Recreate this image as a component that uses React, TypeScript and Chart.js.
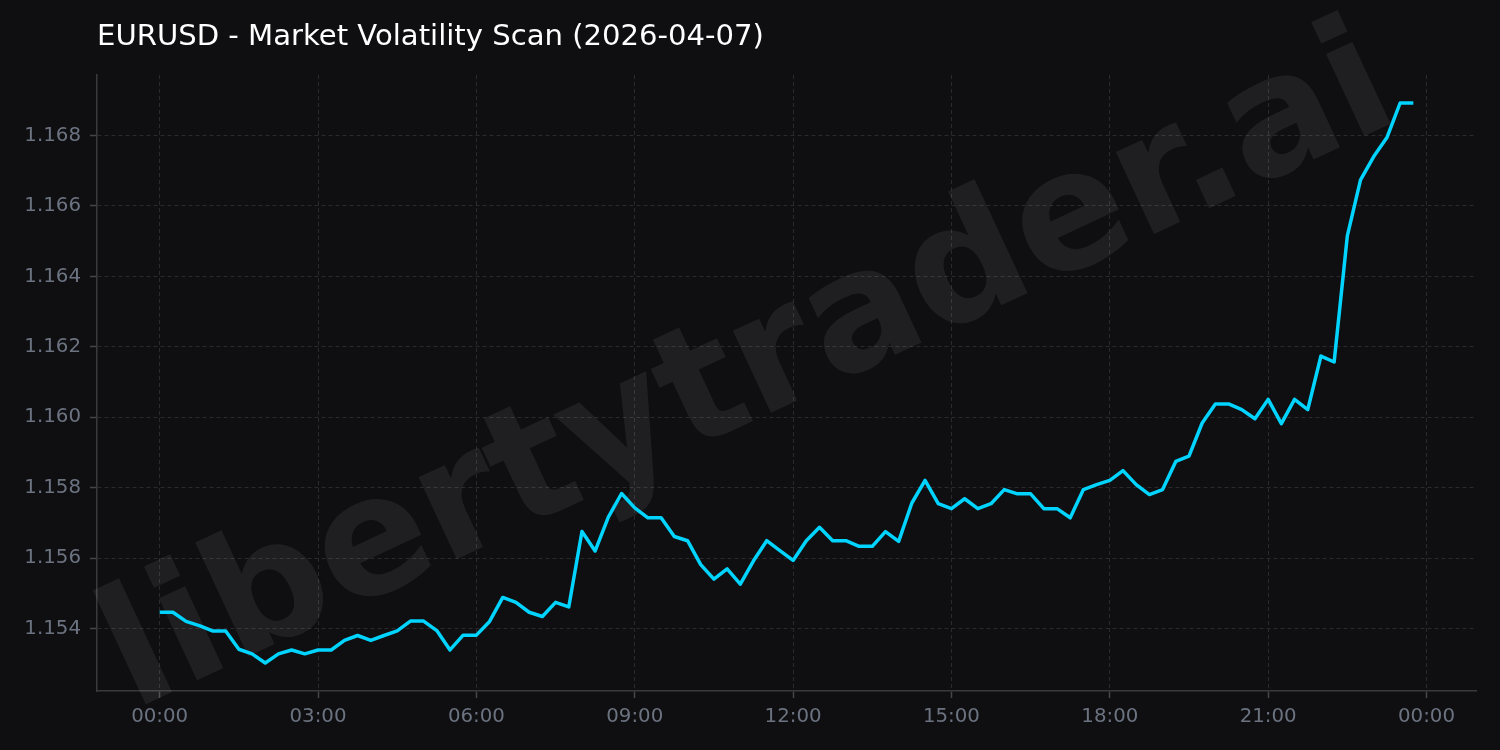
import React, { useEffect, useRef } from "react";
import { Chart, registerables } from "chart.js";

Chart.register(...registerables);

const TITLE = "EURUSD - Market Volatility Scan (2026-04-07)";
const WATERMARK = "libertytrader.ai";
const STEP_MINUTES = 15;

const PRICES: number[] = [
  1.15447, 1.15447, 1.15421, 1.15409, 1.15394, 1.15394, 1.15342, 1.15329,
  1.15303, 1.15329, 1.1534, 1.15329, 1.1534, 1.1534, 1.15367, 1.15381,
  1.15367, 1.15381, 1.15394, 1.15422, 1.15422, 1.15395, 1.1534, 1.15382,
  1.15382, 1.15421, 1.15489, 1.15475, 1.15447, 1.15435, 1.15475, 1.15462,
  1.15676, 1.15621, 1.15717, 1.15784, 1.15743, 1.15715, 1.15715, 1.15662,
  1.1565, 1.15582, 1.15541, 1.1557, 1.15527, 1.15593, 1.1565, 1.15622,
  1.15594, 1.1565, 1.15688, 1.1565, 1.1565, 1.15634, 1.15634, 1.15676,
  1.15648, 1.15757, 1.15821, 1.15755, 1.15741, 1.15769, 1.15741, 1.15755,
  1.15795, 1.15783, 1.15783, 1.15741, 1.15741, 1.15715, 1.15795, 1.15809,
  1.15821, 1.15849, 1.15809, 1.15781, 1.15795, 1.15875, 1.1589, 1.15984,
  1.16038, 1.16038, 1.16022, 1.15996, 1.16051, 1.15982, 1.16051, 1.16022,
  1.16174, 1.16157, 1.16515, 1.16674, 1.1674, 1.16794, 1.16892, 1.16892,
];

const X_TICK_MINUTES: number[] = [0, 180, 360, 540, 720, 900, 1080, 1260, 1440];
const X_TICK_LABELS: string[] = [
  "00:00", "03:00", "06:00", "09:00", "12:00", "15:00", "18:00", "21:00", "00:00",
];
const Y_TICKS: number[] = [1.154, 1.156, 1.158, 1.16, 1.162, 1.164, 1.166, 1.168];

const BG = "#0f0f11";
const LINE_COLOR = "#00d4ff";
const GRID_COLOR = "#2a2a2e";
const SPINE_COLOR = "#3a3a3d";
const TICK_MARK_COLOR = "#45454a";
const TICK_TEXT = "#6b7280";
const FONT = "'DejaVu Sans', 'Liberation Sans', sans-serif";

export default function App() {
  const canvasRef = useRef<HTMLCanvasElement | null>(null);

  useEffect(() => {
    document.body.style.margin = "0";
    document.body.style.background = BG;
    const canvas = canvasRef.current;
    if (!canvas) return;

    const points = PRICES.map((p, i) => ({ x: i * STEP_MINUTES, y: p }));
    const xLast = (PRICES.length - 1) * STEP_MINUTES;
    const xPad = xLast * 0.05;
    const yMin = Math.min(...PRICES);
    const yMax = Math.max(...PRICES);
    const yPad = (yMax - yMin) * 0.05;

    const decor = {
      id: "decor",
      beforeDraw(chart: any) {
        const ctx = chart.ctx;
        ctx.save();
        ctx.fillStyle = BG;
        ctx.fillRect(0, 0, chart.width, chart.height);
        ctx.restore();
      },
      beforeDatasetsDraw(chart: any) {
        const ctx = chart.ctx;
        const f = 165;
        ctx.save();
        ctx.translate(chart.width / 2, chart.height / 2);
        ctx.rotate((-25 * Math.PI) / 180);
        ctx.font = `bold ${f}px ${FONT}`;
        ctx.fillStyle = "rgba(255,255,255,0.07)";
        ctx.textAlign = "center";
        ctx.textBaseline = "alphabetic";
        ctx.fillText(WATERMARK, 0, 0.26 * f);
        ctx.restore();
      },
      afterDraw(chart: any) {
        const ctx = chart.ctx;
        ctx.save();
        ctx.font = `29.1px ${FONT}`;
        ctx.fillStyle = "#ffffff";
        ctx.textAlign = "left";
        ctx.textBaseline = "alphabetic";
        ctx.fillText(TITLE, chart.chartArea.left, 45);
        ctx.restore();
      },
    };

    const chart = new Chart(canvas, {
      type: "line",
      data: {
        datasets: [
          {
            data: points,
            borderColor: LINE_COLOR,
            borderWidth: 3.5,
            pointRadius: 0,
            tension: 0,
            fill: false,
            borderJoinStyle: "round",
            borderCapStyle: "butt",
          },
        ],
      },
      options: {
        animation: false,
        responsive: false,
        devicePixelRatio: 1,
        layout: { padding: { top: 75, right: 24, left: 0, bottom: 0 } },
        plugins: {
          legend: { display: false },
          title: { display: false },
          tooltip: { enabled: false },
        },
        scales: {
          x: {
            type: "linear",
            min: -xPad,
            max: xLast + xPad,
            afterBuildTicks: (scale: any) => {
              scale.ticks = X_TICK_MINUTES.map((v) => ({ value: v }));
            },
            afterFit: (scale: any) => {
              scale.height = 59;
            },
            ticks: {
              autoSkip: false,
              maxRotation: 0,
              padding: 7,
              color: TICK_TEXT,
              font: { family: FONT, size: 19.8 },
              callback: (v: any) => {
                const idx = X_TICK_MINUTES.indexOf(Number(v));
                return idx >= 0 ? X_TICK_LABELS[idx] : "";
              },
            },
            grid: {
              color: GRID_COLOR,
              lineWidth: 1,
              tickColor: TICK_MARK_COLOR,
              tickLength: 7,
              tickWidth: 1.5,
            },
            border: { display: true, color: SPINE_COLOR, width: 1.5, dash: [4, 3] },
          },
          y: {
            type: "linear",
            min: yMin - yPad,
            max: yMax + yPad,
            afterBuildTicks: (scale: any) => {
              scale.ticks = Y_TICKS.map((v) => ({ value: v }));
            },
            afterFit: (scale: any) => {
              scale.width = 97;
            },
            ticks: {
              padding: 9,
              color: TICK_TEXT,
              font: { family: FONT, size: 19.8 },
              callback: (v: any) => Number(v).toFixed(3),
            },
            grid: {
              color: GRID_COLOR,
              lineWidth: 1,
              tickColor: TICK_MARK_COLOR,
              tickLength: 7,
              tickWidth: 1.5,
            },
            border: { display: true, color: SPINE_COLOR, width: 1.5, dash: [4, 3] },
          },
        },
      },
      plugins: [decor],
    } as any);

    return () => chart.destroy();
  }, []);

  return (
    <div style={{ width: 1500, height: 750, background: BG }}>
      <canvas ref={canvasRef} width={1500} height={750} style={{ display: "block" }} />
    </div>
  );
}
